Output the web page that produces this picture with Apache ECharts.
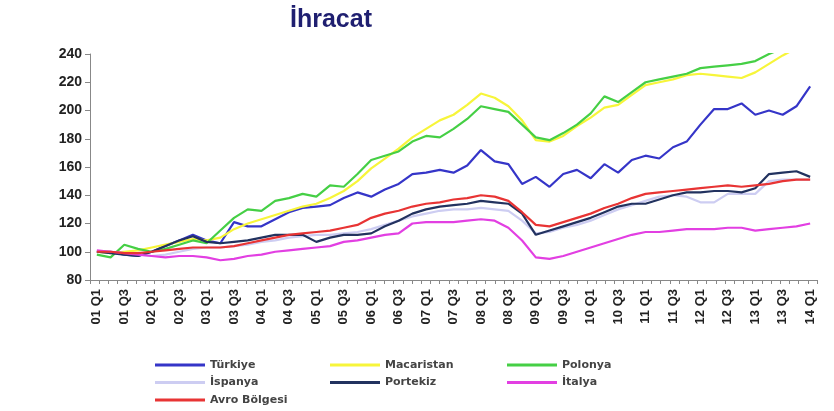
<!DOCTYPE html>
<html>
<head>
<meta charset="utf-8">
<script src="https://cdn.jsdelivr.net/npm/echarts@6/dist/echarts.min.js"></script>
<style>
  html, body { margin: 0; padding: 0; background: #fff; }
  #chart { width: 834px; height: 411px; }
</style>
</head>
<body>
<div id="chart"></div>
<script>
const categories = [
  '01 Q1','01 Q2','01 Q3','01 Q4','02 Q1','02 Q2','02 Q3','02 Q4','03 Q1','03 Q2','03 Q3','03 Q4',
  '04 Q1','04 Q2','04 Q3','04 Q4','05 Q1','05 Q2','05 Q3','05 Q4','06 Q1','06 Q2','06 Q3','06 Q4',
  '07 Q1','07 Q2','07 Q3','07 Q4','08 Q1','08 Q2','08 Q3','08 Q4','09 Q1','09 Q2','09 Q3','09 Q4',
  '10 Q1','10 Q2','10 Q3','10 Q4','11 Q1','11 Q2','11 Q3','11 Q4','12 Q1','12 Q2','12 Q3','12 Q4',
  '13 Q1','13 Q2','13 Q3','13 Q4','14 Q1'
]

const turkiye = [
  100, 100, 98, 97, 100, 104, 108, 112, 108, 106,
  121, 118, 118, 123, 128, 131, 132, 133, 138, 142,
  139, 144, 148, 155, 156, 158, 156, 161, 172, 164,
  162, 148, 153, 146, 155, 158, 152, 162, 156, 165,
  168, 166, 174, 178, 190, 201, 201, 205, 197, 200,
  197, 203, 217
]
const macaristan = [
  100, 99, 100, 101, 103, 105, 107, 109, 108, 110,
  116, 120, 123, 126, 129, 132, 134, 138, 143, 150,
  159, 166, 173, 181, 187, 193, 197, 204, 212, 209,
  203, 193, 179, 178, 182, 189, 195, 202, 204, 211,
  218, 220, 222, 225, 226, 225, 224, 223, 227, 233,
  239, 244, 248
]
const polonya = [
  98, 96, 105, 102, 100, 102, 105, 108, 106, 115,
  124, 130, 129, 136, 138, 141, 139, 147, 146, 155,
  165, 168, 171, 178, 182, 181, 187, 194, 203, 201,
  199, 190, 181, 179, 184, 190, 198, 210, 206, 213,
  220, 222, 224, 226, 230, 231, 232, 233, 235, 240,
  244, 247, 250
]
const ispanya = [
  100, 100, 99, 98, 97, 98, 100, 102, 103, 103,
  104, 105, 107, 108, 110, 111, 112, 112, 113, 114,
  116, 119, 122, 125, 127, 129, 130, 130, 131, 130,
  129, 122, 113, 114, 117, 119, 122, 126, 130, 133,
  136, 139, 140, 139, 135, 135, 141, 141, 141, 150,
  151, 151, 151
]
const portekiz = [
  100, 99, 98, 97, 100, 104, 108, 111, 107, 106,
  107, 108, 110, 112, 112, 112, 107, 110, 112, 112,
  113, 118, 122, 127, 130, 132, 133, 134, 136, 135,
  134, 127, 112, 115, 118, 121, 124, 128, 132, 134,
  134, 137, 140, 142, 142, 143, 143, 142, 145, 155,
  156, 157, 153
]
const italya = [
  101, 100, 99, 98, 97, 96, 97, 97, 96, 94,
  95, 97, 98, 100, 101, 102, 103, 104, 107, 108,
  110, 112, 113, 120, 121, 121, 121, 122, 123, 122,
  117, 108, 96, 95, 97, 100, 103, 106, 109, 112,
  114, 114, 115, 116, 116, 116, 117, 117, 115, 116,
  117, 118, 120
]
const avroBolgesi = [
  100, 100, 99, 99, 100, 101, 102, 103, 103, 103,
  104, 106, 108, 110, 112, 113, 114, 115, 117, 119,
  124, 127, 129, 132, 134, 135, 137, 138, 140, 139,
  136, 128, 119, 118, 121, 124, 127, 131, 134, 138,
  141, 142, 143, 144, 145, 146, 147, 146, 147, 148,
  150, 151, 151
]

const seriesList = [
  { name: 'Türkiye', data: turkiye, color: '#3535c8' },
  { name: 'Macaristan', data: macaristan, color: '#f7f53a' },
  { name: 'Polonya', data: polonya, color: '#45cf45' },
  { name: 'İspanya', data: ispanya, color: '#cdcdf2' },
  { name: 'Portekiz', data: portekiz, color: '#22325f' },
  { name: 'İtalya', data: italya, color: '#e23fe2' },
  { name: 'Avro Bölgesi', data: avroBolgesi, color: '#e83434' }
]

const chart = echarts.init(document.getElementById('chart'))

// one vertical legend per column, as in the original three-column layout
function legendCol(names, left) {
  return {
    orient: 'vertical',
    left: left,
    top: 358,
    height: 60,
    padding: 0,
    data: names,
    icon: 'rect',
    itemWidth: 50,
    itemHeight: 3,
    itemGap: 3.5,
    textStyle: {
      fontFamily: 'DejaVu Sans',
      fontSize: 11,
      fontWeight: 'bold',
      color: '#444',
      lineHeight: 14
    }
  }
}

const option = {
  animation: false,
  backgroundColor: '#fff',
  title: {
    text: 'İhracat',
    left: 285,
    top: 3,
    textStyle: {
      fontFamily: 'Liberation Sans, Arial',
      fontSize: 25,
      fontWeight: 'bold',
      color: '#1f1f70'
    }
  },
  legend: [
    legendCol(['Türkiye', 'İspanya', 'Avro Bölgesi'], 155),
    legendCol(['Macaristan', 'Portekiz'], 330),
    legendCol(['Polonya', 'İtalya'], 507)
  ],
  grid: {
    left: 90,
    right: 17,
    top: 54,
    bottom: 131
  },
  xAxis: [
    {
      type: 'category',
      data: categories,
      boundaryGap: true,
      axisLine: { lineStyle: { color: '#888' } },
      axisTick: { show: false },
      axisLabel: {
        interval: 1,
        rotate: 90,
        margin: 9,
        fontFamily: 'Liberation Sans, Arial',
        fontSize: 13,
        fontWeight: 'bold',
        color: '#222'
      }
    },
    {
      // only the fine tick marks under the axis
      type: 'value',
      position: 'bottom',
      min: 0,
      max: 79,
      interval: 1,
      axisLine: { show: false },
      axisTick: { show: true, length: 4, lineStyle: { color: '#888' } },
      axisLabel: { show: false },
      splitLine: { show: false }
    }
  ],
  yAxis: {
    type: 'value',
    min: 80,
    max: 240,
    interval: 20,
    axisLine: { show: true, lineStyle: { color: '#888' } },
    axisTick: { show: true, length: 5, lineStyle: { color: '#888' } },
    splitLine: { show: false },
    axisLabel: {
      margin: 8,
      fontFamily: 'Liberation Sans, Arial',
      fontSize: 14,
      fontWeight: 'bold',
      color: '#222'
    }
  },
  series: seriesList.map((s) => ({
    name: s.name,
    type: 'line',
    data: s.data,
    xAxisIndex: 0,
    symbol: 'none',
    clip: true,
    color: s.color,
    lineStyle: { width: 2.2, color: s.color }
  }))
}

chart.setOption(option)
</script>
</body>
</html>
